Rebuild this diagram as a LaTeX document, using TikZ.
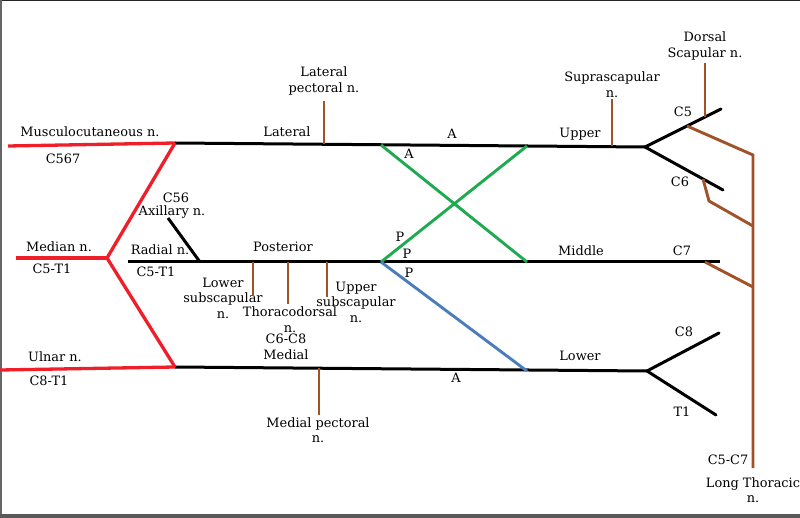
\documentclass[tikz,border=0pt]{standalone}
\usepackage{fontspec}
\setmainfont{DejaVu Serif}
\begin{document}
\begin{tikzpicture}[x=1pt,y=-1pt,
  lbl/.style={inner sep=0pt,font=\fontsize{12.9}{15.5}\selectfont,align=center},
  cord/.style={line width=3pt,black},
  rednerve/.style={line width=3.3pt,color=nred},
  greenline/.style={line width=2.9pt,color=ngreen},
  blueline/.style={line width=2.9pt,color=nblue},
  brownline/.style={line width=2.9pt,color=nbrown}]
\definecolor{nred}{RGB}{240,30,40}
\definecolor{ngreen}{RGB}{30,170,80}
\definecolor{nblue}{RGB}{75,125,190}
\definecolor{nbrown}{RGB}{160,82,40}
\useasboundingbox (0,0) rectangle (800,518);
% frame
\fill[black!85] (0,0) rectangle (800,1.5);
\fill[black!60] (0,0) rectangle (2,518);
\fill[black!65] (0,514) rectangle (800,518);

% coordinates
\coordinate (latL) at (175,143);
\coordinate (latX) at (381,145);
\coordinate (upA) at (527,146);
\coordinate (upV) at (645,147);
\coordinate (c5) at (721,109);
\coordinate (c6) at (723,190);
\coordinate (midL) at (128,262);
\coordinate (midX) at (381,262);
\coordinate (midA) at (527,262);
\coordinate (midR) at (720,262);
\coordinate (medL) at (175,367);
\coordinate (lowA) at (527,371);
\coordinate (lowV) at (647,371);
\coordinate (c8) at (719,333);
\coordinate (t1) at (716,415);
\coordinate (musc) at (8,146);
\coordinate (medn) at (16,258);
\coordinate (medV) at (107,258);
\coordinate (uln) at (0,370);
\coordinate (axA) at (168,218);
\coordinate (axB) at (200,262);

% black cords and trunks
\draw[cord] (latL) -- (upV);
\draw[cord] (midL) -- (midR);
\draw[cord] (medL) -- (lowV);
\draw[cord,line cap=round] (c5) -- (upV) -- (c6);
\draw[cord,line cap=round] (c8) -- (lowV) -- (t1);
\draw[cord] (axA) -- (axB);

% red terminal nerves
\draw[rednerve] (musc) -- (latL);
\draw[rednerve] (medn) -- (medV);
\draw[rednerve] (uln) -- (medL);
\draw[rednerve] (latL) -- (medV) -- (medL);

% divisions
\draw[greenline] (latX) -- (midA);
\draw[greenline] (midX) -- (upA);
\draw[blueline] (midX) -- (lowA);

% brown branches
\coordinate (ltTop) at (753,155);
\coordinate (ltC6) at (753,226);
\coordinate (ltC7) at (753,287);
\coordinate (ltBot) at (753,468);
\coordinate (c5b) at (687,126);
\coordinate (c6b) at (703,179);
\coordinate (c6k) at (709,201);
\coordinate (c7b) at (705,262);
\draw[brownline] (c5b) -- (ltTop) -- (ltBot);
\draw[brownline] (c6b) -- (c6k) -- (ltC6);
\draw[brownline] (c7b) -- (ltC7);
\coordinate (dsT) at (705,63); \coordinate (dsB) at (705,117);
\draw[brownline] (dsT) -- (dsB);
\coordinate (ssT) at (612,99); \coordinate (ssB) at (612,146);
\draw[brownline] (ssT) -- (ssB);
\coordinate (lpT) at (324,101); \coordinate (lpB) at (324,144);
\draw[brownline] (lpT) -- (lpB);
\coordinate (lsT) at (253,262); \coordinate (lsB) at (253,295);
\draw[brownline] (lsT) -- (lsB);
\coordinate (tdT) at (288,262); \coordinate (tdB) at (288,304);
\draw[brownline] (tdT) -- (tdB);
\coordinate (usT) at (327,262); \coordinate (usB) at (327,297);
\draw[brownline] (usT) -- (usB);
\coordinate (mpT) at (319,368); \coordinate (mpB) at (319,415);
\draw[brownline] (mpT) -- (mpB);

% labels
\node[lbl] (tMusc) at (90,132) {Musculocutaneous n.};
\node[lbl] (tC567) at (63,159) {C567};
\node[lbl] (tMed) at (59,247) {Median n.};
\node[lbl] (tMedR) at (52,269) {C5-T1};
\node[lbl] (tUln) at (55,357) {Ulnar n.};
\node[lbl] (tUlnR) at (49,381) {C8-T1};
\node[lbl] (tC56) at (176,198) {C56};
\node[lbl] (tAx) at (172,212) {Axillary n.};
\node[lbl] (tRad) at (160,250) {Radial n.};
\node[lbl] (tRadR) at (156,272) {C5-T1};
\node[lbl] (tPost) at (283,247) {Posterior};
\node[lbl] (tLS) at (223,298) {Lower\\subscapular\\n.};
\node[lbl] (tTD) at (290,319.5) {Thoracodorsal\\n.};
\node[lbl] (tUS) at (356,302) {Upper\\subscapular\\n.};
\node[lbl] (tMedC) at (286,347) {C6-C8\\Medial};
\node[lbl] (tMP) at (318,430) {Medial pectoral\\n.};
\node[lbl] (tLP) at (324,81) {Lateral\\pectoral n.};
\node[lbl] (tLat) at (287,132) {Lateral};
\node[lbl] (tA1) at (452,134) {A};
\node[lbl] (tA2) at (409,154) {A};
\node[lbl] (tP1) at (400,237) {P};
\node[lbl] (tP2) at (407,254) {P};
\node[lbl] (tP3) at (409,273) {P};
\node[lbl] (tA3) at (456,378) {A};
\node[lbl] (tUp) at (580,134) {Upper};
\node[lbl] (tSS) at (612,84.5) {Suprascapular\\n.};
\node[lbl] (tDS) at (705,46) {Dorsal\\Scapular n.};
\node[lbl] (tC5) at (683,112) {C5};
\node[lbl] (tC6) at (680,182) {C6};
\node[lbl] (tC7) at (682,251) {C7};
\node[lbl] (tMid) at (581,251) {Middle};
\node[lbl] (tLow) at (580,356) {Lower};
\node[lbl] (tC8) at (684,332) {C8};
\node[lbl] (tT1) at (682,412) {T1};
\node[lbl] (tC57) at (728,460) {C5-C7};
\node[lbl] (tLT) at (753,490) {Long Thoracic\\n.};
\end{tikzpicture}
\end{document}
